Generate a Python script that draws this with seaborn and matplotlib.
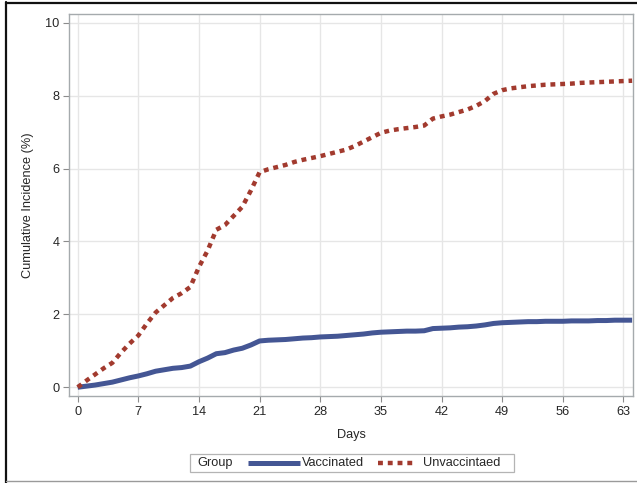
import numpy as np
import pandas as pd
import matplotlib
matplotlib.use("Agg")
import matplotlib.pyplot as plt
import seaborn as sns
from matplotlib.lines import Line2D
from matplotlib.patches import Rectangle

# Cumulative incidence (%) by day since start of follow-up
days = list(range(0, 65))
vaccinated = [0.00, 0.03, 0.06, 0.10, 0.14, 0.20, 0.26, 0.31, 0.37, 0.44,
              0.48, 0.52, 0.54, 0.58, 0.70, 0.80, 0.92, 0.95, 1.02, 1.07,
              1.16, 1.27, 1.29, 1.30, 1.31, 1.33, 1.35, 1.36, 1.38, 1.39,
              1.40, 1.42, 1.44, 1.46, 1.49, 1.51, 1.52, 1.53, 1.54, 1.54,
              1.55, 1.61, 1.62, 1.63, 1.65, 1.66, 1.68, 1.71, 1.75, 1.77,
              1.78, 1.79, 1.80, 1.80, 1.81, 1.81, 1.81, 1.82, 1.82, 1.82,
              1.83, 1.83, 1.84, 1.84, 1.84]
unvaccinated = [0.00, 0.18, 0.35, 0.52, 0.67, 0.95, 1.20, 1.42, 1.75, 2.05,
                2.25, 2.45, 2.58, 2.75, 3.30, 3.75, 4.32, 4.45, 4.70, 4.95,
                5.40, 5.90, 5.98, 6.04, 6.10, 6.18, 6.24, 6.29, 6.34, 6.40,
                6.46, 6.52, 6.62, 6.74, 6.86, 6.98, 7.04, 7.08, 7.11, 7.14,
                7.18, 7.37, 7.43, 7.48, 7.55, 7.62, 7.72, 7.85, 8.05, 8.15,
                8.20, 8.23, 8.26, 8.28, 8.30, 8.31, 8.32, 8.33, 8.35, 8.36,
                8.37, 8.38, 8.39, 8.40, 8.41]
group_title = "Group"
group_labels = ["Vaccinated", "Unvaccintaed"]
x_ticks = [0, 7, 14, 21, 28, 35, 42, 49, 56, 63]
y_ticks = [0, 2, 4, 6, 8, 10]

BLUE = "#445694"
RED = "#A23A2E"
TEXT = "#262626"
SPINE = "#A5AAAD"
GRID = "#E6E6E6"
DOTS = (0, (1.1, 1.1))
FS = 9.2

sns.set_theme(style="white")
plt.rcParams["font.family"] = ["Liberation Sans", "DejaVu Sans"]

df = pd.DataFrame({
    "Days": days * 2,
    "Incidence": vaccinated + unvaccinated,
    "Group": [group_labels[0]] * len(days) + [group_labels[1]] * len(days),
})

W, H = 637, 483
fig = plt.figure(figsize=(W / 100, H / 100), dpi=100)
ax = fig.add_axes([69 / W, 1 - 396 / H, (633 - 69) / W, (396 - 14) / H])

sns.lineplot(data=df[df["Group"] == group_labels[0]], x="Days", y="Incidence",
             color=BLUE, lw=3.6, ax=ax, legend=False, zorder=3)
sns.lineplot(data=df[df["Group"] == group_labels[1]], x="Days", y="Incidence",
             color=RED, lw=3.2, ax=ax, legend=False, zorder=4)
ax.lines[0].set_solid_capstyle("butt")
ax.lines[1].set_linestyle(DOTS)
ax.lines[1].set_dash_capstyle("butt")

ax.set_xlim(-1.0, 64.1)
ax.set_ylim(-0.24, 10.24)
ax.set_xticks(x_ticks)
ax.set_yticks(y_ticks)
ax.grid(True, color=GRID, lw=1.0, zorder=0)
ax.set_axisbelow(True)
for s in ax.spines.values():
    s.set_color(SPINE)
    s.set_linewidth(1.0)
ax.tick_params(axis="both", which="both", direction="out", length=4, width=0.8,
               color="#8C8C8C", labelsize=FS, labelcolor=TEXT, pad=3,
               bottom=True, left=True)
ax.set_xlabel("Days", fontsize=FS, color=TEXT)
ax.set_ylabel("Cumulative Incidence (%)", fontsize=FS, color=TEXT)
ax.xaxis.set_label_coords(0.5, -(435 - 396) / (396 - 14), transform=ax.transAxes)
ax.xaxis.label.set_va("center")
ax.yaxis.set_label_coords(-(69 - 28) / (633 - 69), 0.5, transform=ax.transAxes)
ax.yaxis.label.set_va("center")


def fx(px):
    return px / W


def fy(py):
    return 1 - py / H


# Legend row: title, then each group's line sample and name
ly = 463
fig.add_artist(Rectangle((fx(190), fy(472)), fx(514) - fx(190), fy(454) - fy(472),
                         transform=fig.transFigure, fill=False,
                         edgecolor="#B4B4B4", lw=0.9))
fig.text(fx(197), fy(ly), group_title, fontsize=FS, color=TEXT,
         ha="left", va="center")
fig.add_artist(Line2D([fx(248), fx(300)], [fy(ly), fy(ly)],
                      transform=fig.transFigure, color=BLUE, lw=3.6,
                      solid_capstyle="butt"))
fig.text(fx(302), fy(ly), group_labels[0], fontsize=FS, color=TEXT,
         ha="left", va="center")
fig.add_artist(Line2D([fx(378), fx(414)], [fy(ly), fy(ly)],
                      transform=fig.transFigure, color=RED, lw=3.2,
                      linestyle=DOTS, dash_capstyle="butt"))
fig.text(fx(423), fy(ly), group_labels[1], fontsize=FS, color=TEXT,
         ha="left", va="center")

# Outer frame lines
fig.add_artist(Line2D([fx(6.5), fx(6.5)], [0, fy(2)],
                      transform=fig.transFigure, color="#111111", lw=1.6))
fig.add_artist(Line2D([fx(6), 1], [fy(3), fy(3)],
                      transform=fig.transFigure, color="#111111", lw=1.6))
fig.add_artist(Line2D([fx(6), 1], [fy(481), fy(481)],
                      transform=fig.transFigure, color="#9A9A9A", lw=1.0))

fig.savefig("out.png", dpi=100, facecolor="white")
